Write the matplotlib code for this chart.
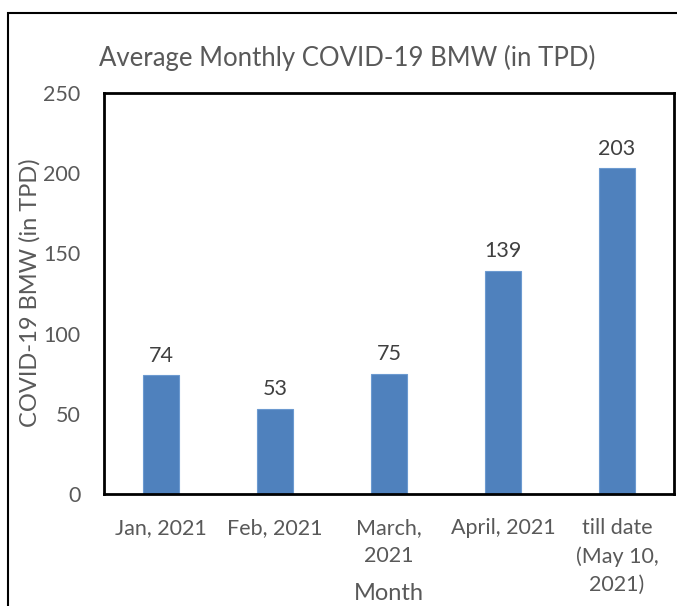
import matplotlib
matplotlib.use("Agg")
import matplotlib.pyplot as plt
from matplotlib.patches import Rectangle

categories = ["Jan, 2021", "Feb, 2021", "March,\n2021", "April, 2021", "till date\n(May 10,\n2021)"]
values = [74, 53, 75, 139, 203]
yticks = [0, 50, 100, 150, 200, 250]

plt.rcParams['font.family'] = ['Lato', 'DejaVu Sans']
W, H = 677, 606
fig = plt.figure(figsize=(W/100, H/100), dpi=100)
ax = fig.add_axes([104/W, 1-494/H, (674-104)/W, (494-93)/H])

txt = '#595959'
x = list(range(len(categories)))
ax.bar(x, values, width=0.31, color='#4F81BD', edgecolor='#6C9AD0', linewidth=0.8, zorder=2)
for xi, v in zip(x, values):
    ax.text(xi, v + 6, str(v), ha='center', va='bottom', fontsize=15.5, color='#404040')

ax.set_xlim(-0.5, len(categories) - 0.5)
ax.set_ylim(0, 250)
ax.set_yticks(yticks)
ax.set_yticklabels([str(t) for t in yticks], fontsize=15.5, color=txt)
ax.set_xticks(x)
ax.set_xticklabels(categories, fontsize=15.5, color=txt, linespacing=1.5, va='top')
ax.tick_params(axis='both', length=0)
ax.tick_params(axis='x', pad=17)
ax.tick_params(axis='y', pad=17)
for s in ax.spines.values():
    s.set_linewidth(2)
    s.set_color('black')

fig.text(30/W, 1-293/H, 'COVID-19 BMW (in TPD)', rotation=90, ha='center', va='center',
         fontsize=17, color=txt)

fig.text(389/W, 1-593/H, 'Month', ha='center', va='center', fontsize=17, color=txt)

fig.text(347/W, 1-58/H, 'Average Monthly COVID-19 BMW (in TPD)', ha='center', va='center',
         fontsize=18.5, color=txt)

fig.patches.append(Rectangle((8/W, -0.1), 1.2, 1.1 - 13/H, transform=fig.transFigure,
                             fill=False, edgecolor='black', linewidth=1.5))

fig.savefig('out.png', dpi=100)
